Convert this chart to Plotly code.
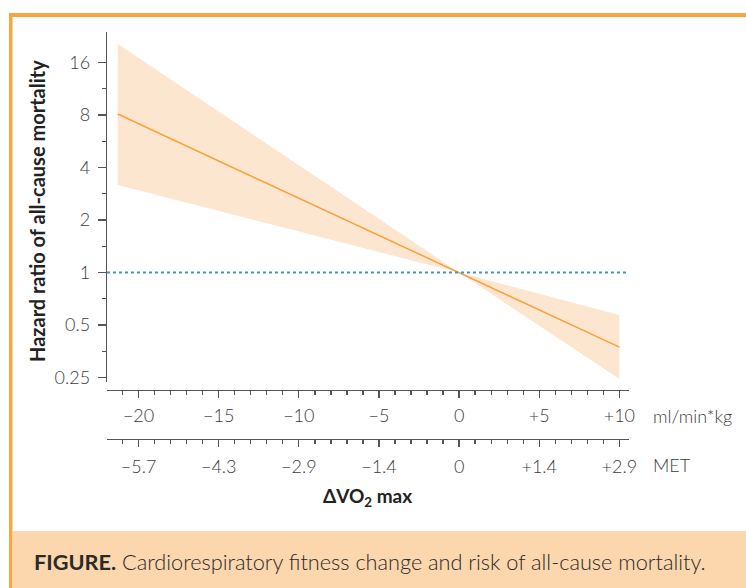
import plotly.graph_objects as go

W, H = 746, 588

# ---- data ----
delta_vo2 = [-21.3, 0, 10]          # ml/min*kg
hazard_ratio = [8.1, 1.0, 0.373]
ci_upper = [20.4, 1.0, 0.57]
ci_lower = [3.17, 1.0, 0.245]

x_tick_vals = [-20, -15, -10, -5, 0, 5, 10]
x_tick_text_ml = ["\u221220", "\u221215", "\u221210", "\u22125", "0", "+5", "+10"]
x_tick_text_met = ["\u22125.7", "\u22124.3", "\u22122.9", "\u22121.4", "0", "+1.4", "+2.9"]
y_tick_vals = [0.25, 0.5, 1, 2, 4, 8, 16]
y_tick_text = ["0.25", "0.5", "1", "2", "4", "8", "16"]
y_minor_vals = [0.3536, 0.7071, 1.4142, 2.8284, 5.6569, 11.3137]

# ---- styles ----
FONT = "Lato"
TXT = "#3c3c3c"
AX = "#555555"
ORANGE = "#F7A23B"
BAND = "#FDE6CF"
FRAME = "#FAA640"
CAPTION_BG = "#FCD6AC"

def px(x):
    return x / W

def py(y):
    return 1 - y / H

fig = go.Figure()

fig.add_trace(go.Scatter(x=delta_vo2, y=ci_upper, mode="lines", line=dict(width=0),
                         hoverinfo="skip", showlegend=False))
fig.add_trace(go.Scatter(x=delta_vo2, y=ci_lower, mode="lines", line=dict(width=0),
                         fill="tonexty", fillcolor=BAND, hoverinfo="skip", showlegend=False))
fig.add_trace(go.Scatter(x=delta_vo2, y=hazard_ratio, mode="lines",
                         line=dict(color=ORANGE, width=1.5), showlegend=False))
# invisible trace so the second (MET) x axis is drawn
fig.add_trace(go.Scatter(x=delta_vo2, y=hazard_ratio, xaxis="x2", mode="lines",
                         line=dict(width=0), opacity=0, hoverinfo="skip", showlegend=False))

xrange = [-21.97, 10.6]
common_x = dict(
    range=xrange, domain=[px(107), px(629)], anchor="free",
    showline=True, linecolor=AX, linewidth=1.3,
    ticks="outside", ticklen=7, tickwidth=1.3, tickcolor=AX,
    tickmode="array", tickvals=x_tick_vals,
    minor=dict(dtick=1, tick0=0, ticks="outside", ticklen=4, tickwidth=1.3, tickcolor=AX),
    tickfont=dict(family=FONT, size=18, color=TXT, weight=300),
    showgrid=False, zeroline=False, automargin=False, fixedrange=True,
)

fig.update_layout(
    width=W, height=H,
    margin=dict(l=0, r=0, t=0, b=0),
    paper_bgcolor="white", plot_bgcolor="white",
    xaxis=dict(common_x, position=py(390), ticktext=x_tick_text_ml, ticklabelstandoff=2),
    xaxis2=dict(common_x, position=py(439), ticktext=x_tick_text_met, overlaying="x",
                ticklabelstandoff=4),
    yaxis=dict(
        type="log", range=[-0.628, 1.379], domain=[py(382), py(32)], anchor="x",
        showline=True, linecolor=AX, linewidth=1.3,
        ticks="outside", ticklen=8, tickwidth=1.3, tickcolor=AX,
        tickmode="array", tickvals=y_tick_vals, ticktext=y_tick_text,
        minor=dict(tickmode="array", tickvals=y_minor_vals, ticks="outside",
                   ticklen=4, tickwidth=1.3, tickcolor=AX),
        tickfont=dict(family=FONT, size=18, color=TXT, weight=300),
        showgrid=False, zeroline=False, automargin=False, fixedrange=True,
        ticklabelstandoff=4,
    ),
    showlegend=False,
)

# reference line at HR = 1
fig.add_shape(type="line", xref="x domain", yref="y", x0=0, x1=1, y0=1, y1=1,
              line=dict(color="#4A90C8", width=2, dash="dot"), layer="above")

# frame and caption box
fig.add_shape(type="rect", xref="paper", yref="paper", x0=px(9), x1=px(746), y0=py(17), y1=py(13),
              line=dict(width=0), fillcolor=FRAME, layer="below")
fig.add_shape(type="rect", xref="paper", yref="paper", x0=px(9), x1=px(12.5), y0=py(588), y1=py(13),
              line=dict(width=0), fillcolor=FRAME, layer="below")
fig.add_shape(type="rect", xref="paper", yref="paper", x0=px(12.5), x1=px(746), y0=py(588), y1=py(531),
              line=dict(width=0), fillcolor=CAPTION_BG, layer="below")

ann = [
    dict(text="<b>Hazard ratio of all-cause mortality</b>", x=px(37), y=py(211), textangle=-90,
         font=dict(family=FONT, size=20, color="#222222"), xanchor="center", yanchor="middle"),
    dict(text="<b>\u0394VO<sub>2</sub> max</b>", x=px(367), y=py(497),
         font=dict(family=FONT, size=19, color="#222222"), xanchor="center", yanchor="middle"),
    dict(text="ml/min*kg", x=px(651), y=py(416), xanchor="left", yanchor="middle",
         font=dict(family=FONT, size=18, color=TXT, weight=300)),
    dict(text="MET", x=px(651), y=py(465), xanchor="left", yanchor="middle",
         font=dict(family=FONT, size=18, color=TXT, weight=300)),
    dict(text="<b>FIGURE.</b> Cardiorespiratory fitness change and risk of all-cause mortality.",
         x=px(32), y=py(562), xanchor="left", yanchor="middle",
         font=dict(family=FONT, size=21.7, color="#2a2a2a", weight=300)),
]
for a in ann:
    a.update(xref="paper", yref="paper", showarrow=False)
    fig.add_annotation(**a)

fig.write_html(
    "out.html",
    config={"displayModeBar": False, "staticPlot": True},
    post_script="document.body.style.margin='0';document.body.style.overflow='hidden';",
)
